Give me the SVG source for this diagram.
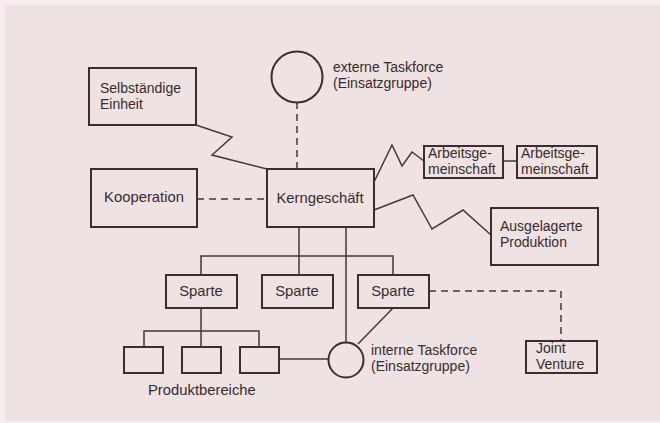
<svg xmlns="http://www.w3.org/2000/svg" width="660" height="423" viewBox="0 0 660 423">
<style>
.box{fill:none;stroke:#3f2c2c;stroke-width:2}
.ln{fill:none;stroke:#4a3636;stroke-width:1.5}
.dash{fill:none;stroke:#4a3636;stroke-width:1.5;stroke-dasharray:7 5}
text{font-family:"Liberation Sans",Arial,sans-serif;font-size:14.8px;fill:#3a2a2a}
.t2{font-size:14px}
.m{text-anchor:middle}
</style>
<rect x="0" y="0" width="660" height="423" fill="#f6eeee"/>
<rect x="5" y="5" width="655" height="416" fill="#efe2e3"/>
<g id="connectors">
<polyline class="ln" points="196,125 232,137 212,155 267,169"/>
<line class="dash" x1="297" y1="102" x2="297" y2="169"/>
<line class="dash" x1="197" y1="199" x2="267" y2="199"/>
<polyline class="ln" points="374,182 392,145 402,166 412,152 424,161"/>
<line class="ln" x1="503" y1="161" x2="517" y2="161"/>
<polyline class="ln" points="374,210 413,195 432,229 463,210 491,235"/>
<line class="ln" x1="299" y1="227" x2="299" y2="275"/>
<line class="ln" x1="346" y1="227" x2="346" y2="342"/>
<polyline class="ln" points="201,275 201,256 393,256 393,275"/>
<line class="ln" x1="393" y1="308" x2="358" y2="344"/>
<polyline class="dash" points="429,291 561,291 561,341"/>
<line class="ln" x1="201" y1="308" x2="201" y2="347"/>
<polyline class="ln" points="144,347 144,331 259,331 259,347"/>
<line class="ln" x1="279" y1="359" x2="328" y2="359"/>
</g>
<g id="extern">
<circle class="box" cx="297" cy="77" r="25.5"/>
<text class="t2" x="333" y="72">externe Taskforce</text>
<text class="t2" x="333" y="88">(Einsatzgruppe)</text>
</g>
<g id="selbst">
<rect class="box" x="89" y="68" width="107" height="57"/>
<text class="t2" x="100" y="93">Selbständige</text>
<text class="t2" x="100" y="109">Einheit</text>
</g>
<g id="kooperation">
<rect class="box" x="91" y="169" width="106" height="58"/>
<text class="m" x="144" y="202">Kooperation</text>
</g>
<g id="kern">
<rect class="box" x="267" y="169" width="107" height="58"/>
<text class="m" x="320" y="203">Kerngeschäft</text>
</g>
<g id="arge1">
<rect class="box" x="424" y="146" width="79" height="32"/>
<text class="t2" x="428" y="158">Arbeitsge-</text>
<text class="t2" x="428" y="174">meinschaft</text>
</g>
<g id="arge2">
<rect class="box" x="517" y="146" width="80" height="32"/>
<text class="t2" x="521" y="158">Arbeitsge-</text>
<text class="t2" x="521" y="174">meinschaft</text>
</g>
<g id="ausgelagert">
<rect class="box" x="491" y="208" width="107" height="57"/>
<text class="t2" x="500" y="231">Ausgelagerte</text>
<text class="t2" x="500" y="247">Produktion</text>
</g>
<g id="sparte1">
<rect class="box" x="166" y="275" width="71" height="33"/>
<text class="m" x="201" y="296">Sparte</text>
</g>
<g id="sparte2">
<rect class="box" x="262" y="275" width="71" height="33"/>
<text class="m" x="297" y="296">Sparte</text>
</g>
<g id="sparte3">
<rect class="box" x="358" y="275" width="71" height="33"/>
<text class="m" x="393" y="296">Sparte</text>
</g>
<g id="intern">
<circle class="box" cx="346" cy="360" r="17.5"/>
<text class="t2" x="371" y="355">interne Taskforce</text>
<text class="t2" x="371" y="371">(Einsatzgruppe)</text>
</g>
<g id="joint">
<rect class="box" x="526" y="341" width="71" height="32"/>
<text class="t2" x="536" y="353">Joint</text>
<text class="t2" x="536" y="369">Venture</text>
</g>
<g id="produkt1"><rect class="box" x="124" y="347" width="39" height="26"/></g>
<g id="produkt2"><rect class="box" x="182" y="347" width="39" height="26"/></g>
<g id="produkt3"><rect class="box" x="240" y="347" width="39" height="26"/></g>
<g id="produktlabel"><text x="148" y="395">Produktbereiche</text></g>
</svg>
